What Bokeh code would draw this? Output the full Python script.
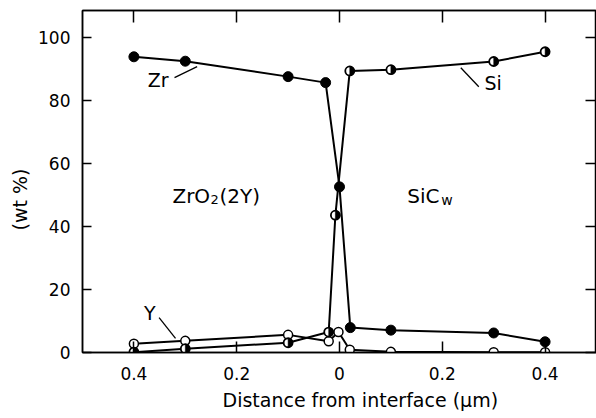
import math
from bokeh.plotting import figure
from bokeh.models import LinearAxis, FixedTicker, Range1d, ColumnDataSource, Title, CustomJSTickFormatter
from bokeh.core.properties import value
from bokeh.embed import file_html
from bokeh.resources import INLINE

# ---- data ----
zr_x = [-0.4, -0.3, -0.1, -0.027, 0.0, 0.021, 0.1, 0.3, 0.4]
zr_y = [93.9, 92.5, 87.6, 85.7, 52.6, 7.9, 7.1, 6.2, 3.4]

si_x = [-0.4, -0.3, -0.1, -0.021, -0.008, 0.02, 0.1, 0.3, 0.4]
si_y = [0.1, 1.2, 3.1, 6.5, 43.6, 89.4, 89.8, 92.4, 95.5]

y_x = [-0.4, -0.3, -0.1, -0.021, -0.002, 0.02, 0.1, 0.3, 0.4]
y_y = [2.8, 3.7, 5.6, 3.6, 6.5, 0.9, 0.2, 0.1, 0.1]

x_ticks = [-0.4, -0.2, 0.0, 0.2, 0.4]
x_tick_labels = ["0.4", "0.2", "0", "0.2", "0.4"]
y_ticks = [0, 20, 40, 60, 80, 100]

FONT = "DejaVu Sans"

p = figure(width=596, height=417, output_backend="svg", toolbar_location=None,
           x_range=Range1d(-0.5, 0.5), y_range=Range1d(0, 108.6),
           min_border_left=82, min_border_right=0, min_border_top=10,
           min_border_bottom=65)
p.xgrid.visible = False
p.ygrid.visible = False
p.outline_line_color = "black"
p.outline_line_width = 1.5
p.background_fill_color = "white"
p.border_fill_color = "white"

def style_axis(ax, tick_len):
    ax.axis_line_color = "black"
    ax.axis_line_width = 1.5
    ax.major_tick_in = tick_len
    ax.major_tick_out = 0
    ax.major_tick_line_width = 1.5
    ax.minor_tick_line_color = None
    ax.major_label_text_font = FONT
    ax.major_label_text_font_size = "17px"
    ax.major_label_text_color = "black"

xax = p.xaxis[0]
xax.ticker = FixedTicker(ticks=x_ticks)
xax.major_label_overrides = {t: l for t, l in zip(x_ticks, x_tick_labels)}
style_axis(xax, 11)
xax.major_label_standoff = 14

yax = p.yaxis[0]
yax.ticker = FixedTicker(ticks=y_ticks)
style_axis(yax, 9)
yax.major_label_standoff = 12

blank = CustomJSTickFormatter(code="return ''")
top = LinearAxis(ticker=FixedTicker(ticks=x_ticks), formatter=blank)
style_axis(top, 12)
top.major_label_standoff = 0
p.add_layout(top, "above")

right = LinearAxis(ticker=FixedTicker(ticks=y_ticks), formatter=blank)
style_axis(right, 11)
right.major_label_standoff = 0
p.add_layout(right, "right")

# axis titles (as side titles so they can be shifted like the reference)
p.add_layout(Title(text="Distance from interface (\u03bcm)", align="left", offset=140,
                   text_font=FONT, text_font_size="19px", text_font_style="normal",
                   text_color="black", standoff=9), "below")
p.add_layout(Title(text="(wt %)", align="left", offset=122,
                   text_font=FONT, text_font_size="19px", text_font_style="normal",
                   text_color="black", standoff=10), "left")

# ---- lines ----
p.line(zr_x, zr_y, line_color="black", line_width=2)
p.line(si_x, si_y, line_color="black", line_width=2)
p.line(y_x, y_y, line_color="black", line_width=2)

# ---- markers ----
p.scatter(y_x, y_y, marker="circle", size=9, fill_color="white",
          line_color="black", line_width=1.5)
p.scatter(si_x, si_y, marker="circle", size=9, fill_color="white",
          line_color="black", line_width=1.8)
p.wedge(si_x, si_y, radius=4.5, radius_units="screen",
        start_angle=-math.pi / 2, end_angle=math.pi / 2,
        fill_color="black", line_color="black", line_width=0.5)
p.scatter(zr_x, zr_y, marker="circle", size=10, fill_color="black",
          line_color="black", line_width=1)

# ---- annotations ----
lab_src = ColumnDataSource(dict(x=[-0.353, 0.299, -0.369], y=[86.6, 85.5, 12.4],
                                t=["Zr", "Si", "Y"]))
p.text(x="x", y="y", text="t", source=lab_src, text_font=value(FONT),
       text_font_size="19px", text_align="center", text_baseline="middle",
       text_color="black")

p.segment(x0=[-0.321, 0.236, -0.351], y0=[87.3, 90.4, 11.1],
          x1=[-0.277, 0.271, -0.319], y1=[90.8, 84.4, 4.5],
          line_color="black", line_width=1.3)

# phase labels with subscripts
p.text(x=[-0.325], y=[49.7], text=["ZrO"], text_font=value(FONT),
       text_font_size="20px", text_align="left", text_baseline="alphabetic")
p.text(x=[-0.325], y=[49.7], text=["2"], x_offset=38, y_offset=4,
       text_font=value(FONT), text_font_size="13px", text_align="left",
       text_baseline="alphabetic")
p.text(x=[-0.325], y=[49.7], text=["(2Y)"], x_offset=47,
       text_font=value(FONT), text_font_size="20px", text_align="left",
       text_baseline="alphabetic")

p.text(x=[0.132], y=[49.7], text=["SiC"], text_font=value(FONT),
       text_font_size="20px", text_align="left", text_baseline="alphabetic")
p.text(x=[0.132], y=[49.7], text=["w"], x_offset=34, y_offset=4,
       text_font=value(FONT), text_font_size="14px", text_align="left",
       text_baseline="alphabetic")

open("out.html", "w").write(file_html(p, INLINE))
